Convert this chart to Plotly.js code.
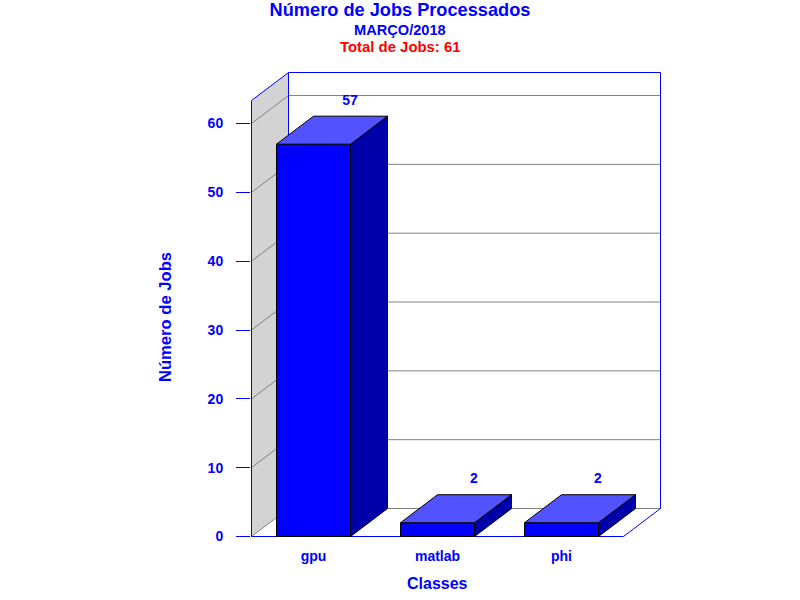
<!DOCTYPE html>
<html>
<head>
<meta charset="utf-8">
<script src="https://cdn.plot.ly/plotly-3.0.1.min.js"></script>
<style>html,body{margin:0;padding:0;background:#fff}#chart{width:800px;height:600px}</style>
</head>
<body>
<div id="chart"></div>
<script>
const categories = ['gpu', 'matlab', 'phi'];
const jobs = [57, 2, 2];
const yTicks = [0, 10, 20, 30, 40, 50, 60];
const chartTitle = 'Número de Jobs Processados';
const subTitle = 'MARÇO/2018';
const totalTitle = 'Total de Jobs: 61';
const xTitle = 'Classes';
const yTitle = 'Número de Jobs';

const BLUE = '#0000ff', TOP = '#5252ff', SIDE = '#0000aa', WALL = '#d3d3d3', GRID = '#808080';
const FONT = '"Liberation Sans", Arial, sans-serif';
const pxX = 124, pxY = 6.883;          // pixels per data unit
const dx = 37 / pxX, dy = 28 / pxY;    // depth of the 3D effect
const barW = 74 / pxX;
const xMin = -0.5, xMax = 2.5;
const yFront = 436 / pxY;              // top of the front plane
const xs = categories.map((_, i) => i);

const traces = [{
  type: 'bar', x: xs, y: jobs, width: barW,
  marker: {color: BLUE, line: {color: '#000', width: 1}},
  hoverinfo: 'skip', showlegend: false
}];
xs.forEach((x, i) => {
  const l = x - barW / 2, r = x + barW / 2, v = jobs[i];
  traces.push({
    type: 'scatter', mode: 'lines', fill: 'toself', fillcolor: SIDE,
    x: [r, r + dx, r + dx, r, r], y: [0, dy, v + dy, v, 0],
    line: {color: '#000', width: 1}, hoverinfo: 'skip', showlegend: false
  });
  traces.push({
    type: 'scatter', mode: 'lines', fill: 'toself', fillcolor: TOP,
    x: [l, l + dx, r + dx, r, l], y: [v, v + dy, v + dy, v, v],
    line: {color: '#000', width: 1}, hoverinfo: 'skip', showlegend: false
  });
});
traces.push({
  type: 'scatter', mode: 'markers+text', x: xs.map(x => x + dx - 0.5 / pxX), y: jobs.map(v => v + dy),
  text: jobs.map(String), textposition: 'top center',
  marker: {size: 11, opacity: 0},
  textfont: {family: FONT, size: 14, color: BLUE, weight: 700},
  cliponaxis: false, hoverinfo: 'skip', showlegend: false
});

const seg = (x0, y0, x1, y1, color) => ({
  type: 'line', xref: 'x', yref: 'y', layer: 'below', x0, y0, x1, y1,
  line: {color, width: 1}
});
const shapes = [{
  type: 'path', xref: 'x', yref: 'y', layer: 'below',
  path: `M${xMin},0 L${xMin + dx},${dy} L${xMin + dx},${yFront + dy} L${xMin},${yFront} Z`,
  fillcolor: WALL, line: {width: 0}
}];
yTicks.forEach(v => {
  shapes.push(seg(xMin + dx, v + dy, xMax + dx, v + dy, GRID));
  shapes.push(seg(xMin, v, xMin + dx, v + dy, GRID));
});
shapes.push(seg(xMin, 0, xMin, yFront, BLUE));
shapes.push(seg(xMin, yFront, xMin + dx, yFront + dy, BLUE));
shapes.push(seg(xMin + dx, dy, xMin + dx, yFront + dy, BLUE));
shapes.push(seg(xMin + dx, yFront + dy, xMax + dx, yFront + dy, BLUE));
shapes.push(seg(xMax + dx, dy, xMax + dx, yFront + dy, BLUE));
shapes.push(seg(xMax, 0, xMax + dx, dy, BLUE));
shapes.push(seg(xMin, 0, xMax, 0, BLUE));

const bold = (size, color) => ({family: FONT, size, color, weight: 700});
const paperX = px => (px - 251) / 410;
const paperY = px => (537 - px) / 465;
const layout = {
  width: 800, height: 600,
  margin: {l: 251, r: 139, t: 72, b: 63, pad: 0},
  paper_bgcolor: '#fff', plot_bgcolor: '#fff',
  title: {text: chartTitle, font: bold(18.2, BLUE), x: 0.5, xanchor: 'center', y: 1 - 10 / 600, yanchor: 'middle', yref: 'container'},
  xaxis: {
    range: [xMin - 0.5 / pxX, xMax + dx + 0.5 / pxX], tickmode: 'array', tickvals: xs, ticktext: categories,
    ticks: '', showgrid: false, zeroline: false, showline: false,
    tickfont: bold(14, BLUE), ticklabelstandoff: 9
  },
  yaxis: {
    range: [-0.5 / pxY, yFront + dy + 0.5 / pxY], tickmode: 'array', tickvals: yTicks,
    ticks: 'outside', ticklen: 14, tickcolor: BLUE, tickwidth: 1,
    showgrid: false, zeroline: false, showline: false,
    tickfont: bold(14, BLUE), ticklabelstandoff: 10
  },
  shapes,
  annotations: [
    {text: subTitle, xref: 'paper', yref: 'paper', x: paperX(400), y: paperY(30), xanchor: 'center', yanchor: 'middle', showarrow: false, font: bold(14.6, BLUE)},
    {text: totalTitle, xref: 'paper', yref: 'paper', x: paperX(400), y: paperY(47), xanchor: 'center', yanchor: 'middle', showarrow: false, font: bold(14.9, '#ff0000')},
    {text: xTitle, xref: 'paper', yref: 'paper', x: paperX(437.5), y: paperY(583), xanchor: 'center', yanchor: 'middle', showarrow: false, font: bold(16, BLUE)},
    {text: yTitle, xref: 'paper', yref: 'paper', x: paperX(165), y: paperY(317), xanchor: 'center', yanchor: 'middle', textangle: -90, showarrow: false, font: bold(16.6, BLUE)}
  ],
  showlegend: false
};
Plotly.newPlot('chart', traces, layout, {displayModeBar: false, staticPlot: true});
</script>
</body>
</html>
